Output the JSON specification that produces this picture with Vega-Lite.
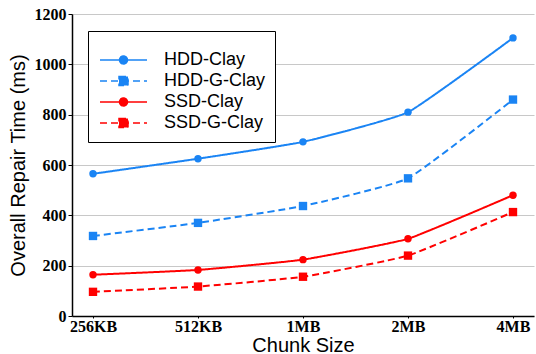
{
  "$schema": "https://vega.github.io/schema/vega-lite/v6.json",
  "autosize": {"type": "none"},
  "width": 462,
  "height": 302,
  "padding": {"left": 72, "top": 14, "right": 2, "bottom": 38},
  "background": "white",
  "config": {
    "view": {"stroke": null},
    "axis": {
      "labelFont": "Liberation Serif",
      "labelFontWeight": "bold",
      "labelFontSize": 16,
      "labelColor": "black",
      "titleFont": "Liberation Sans",
      "titleFontWeight": "normal",
      "titleFontSize": 20,
      "titleColor": "black",
      "domainColor": "black",
      "domainWidth": 1.5,
      "tickColor": "black",
      "tickSize": 4
    },
    "legend": {
      "orient": "none",
      "legendX": 16,
      "legendY": 17,
      "strokeColor": "black",
      "fillColor": "white",
      "padding": 10,
      "titleFontSize": 6,
      "titlePadding": 2,
      "labelFont": "Liberation Sans",
      "labelFontSize": 18,
      "labelColor": "black",
      "labelOffset": 44,
      "symbolSize": 400,
      "rowPadding": 1,
      "symbolStrokeWidth": 1.5,
      "labelLimit": 300
    }
  },
  "data": {
    "values": [
      {"chunk": "256KB", "series": "HDD-Clay", "time": 565},
      {"chunk": "512KB", "series": "HDD-Clay", "time": 625},
      {"chunk": "1MB", "series": "HDD-Clay", "time": 692},
      {"chunk": "2MB", "series": "HDD-Clay", "time": 810},
      {"chunk": "4MB", "series": "HDD-Clay", "time": 1105},
      {"chunk": "256KB", "series": "HDD-G-Clay", "time": 318},
      {"chunk": "512KB", "series": "HDD-G-Clay", "time": 370},
      {"chunk": "1MB", "series": "HDD-G-Clay", "time": 437},
      {"chunk": "2MB", "series": "HDD-G-Clay", "time": 547},
      {"chunk": "4MB", "series": "HDD-G-Clay", "time": 860},
      {"chunk": "256KB", "series": "SSD-Clay", "time": 164},
      {"chunk": "512KB", "series": "SSD-Clay", "time": 183},
      {"chunk": "1MB", "series": "SSD-Clay", "time": 224},
      {"chunk": "2MB", "series": "SSD-Clay", "time": 307},
      {"chunk": "4MB", "series": "SSD-Clay", "time": 480},
      {"chunk": "256KB", "series": "SSD-G-Clay", "time": 96},
      {"chunk": "512KB", "series": "SSD-G-Clay", "time": 117},
      {"chunk": "1MB", "series": "SSD-G-Clay", "time": 156},
      {"chunk": "2MB", "series": "SSD-G-Clay", "time": 240},
      {"chunk": "4MB", "series": "SSD-G-Clay", "time": 413}
    ]
  },
  "encoding": {
    "x": {
      "field": "chunk",
      "type": "ordinal",
      "sort": ["256KB", "512KB", "1MB", "2MB", "4MB"],
      "scale": {"type": "point", "padding": 0.2},
      "title": "Chunk Size",
      "axis": {"labelAngle": 0, "grid": false, "tickSize": 2, "labelPadding": 0, "titlePadding": 1}
    },
    "y": {
      "field": "time",
      "type": "quantitative",
      "scale": {"domain": [0, 1200], "nice": false},
      "title": "Overall Repair Time (ms)",
      "axis": {"values": [0, 200, 400, 600, 800, 1000, 1200], "format": "d", "grid": true, "gridColor": "#c8c8c8", "gridWidth": 1.2, "labelPadding": 2, "titlePadding": 6}
    },
    "color": {
      "field": "series",
      "type": "nominal",
      "title": " ",
      "scale": {"domain": ["HDD-Clay", "HDD-G-Clay", "SSD-Clay", "SSD-G-Clay"], "range": ["#1a84f4", "#1a84f4", "#ff0000", "#ff0000"]}
    }
  },
  "layer": [
    {
      "mark": {"type": "line", "interpolate": "cardinal", "tension": 0.6, "strokeWidth": 2},
      "encoding": {
        "strokeDash": {
          "field": "series",
          "type": "nominal",
          "title": " ",
          "scale": {"domain": ["HDD-Clay", "HDD-G-Clay", "SSD-Clay", "SSD-G-Clay"], "range": [[1, 0], [7, 4], [1, 0], [7, 4]]}
        }
      }
    },
    {
      "transform": [{"filter": "indexof(datum.series, 'G-') < 0"}],
      "mark": {"type": "point", "shape": "circle", "filled": true, "opacity": 1, "size": 55}
    },
    {
      "transform": [{"filter": "indexof(datum.series, 'G-') >= 0"}],
      "mark": {"type": "point", "shape": "square", "filled": true, "opacity": 1, "size": 70}
    },
    {
      "transform": [{"filter": "datum.time < 0"}],
      "mark": {"type": "point", "filled": true, "opacity": 1},
      "encoding": {
        "shape": {
          "field": "series",
          "type": "nominal",
          "title": " ",
          "scale": {"domain": ["HDD-Clay", "HDD-G-Clay", "SSD-Clay", "SSD-G-Clay"], "range": ["M-0.9,0H3.8M1.85,0A0.4,0.4,0,1,1,1.05,0A0.4,0.4,0,1,1,1.85,0Z", "M-0.9,0H3.8M1,-0.45H1.9V0.45H1Z", "M-0.9,0H3.8M1.85,0A0.4,0.4,0,1,1,1.05,0A0.4,0.4,0,1,1,1.85,0Z", "M-0.9,0H3.8M1,-0.45H1.9V0.45H1Z"]}
        }
      }
    }
  ]
}
